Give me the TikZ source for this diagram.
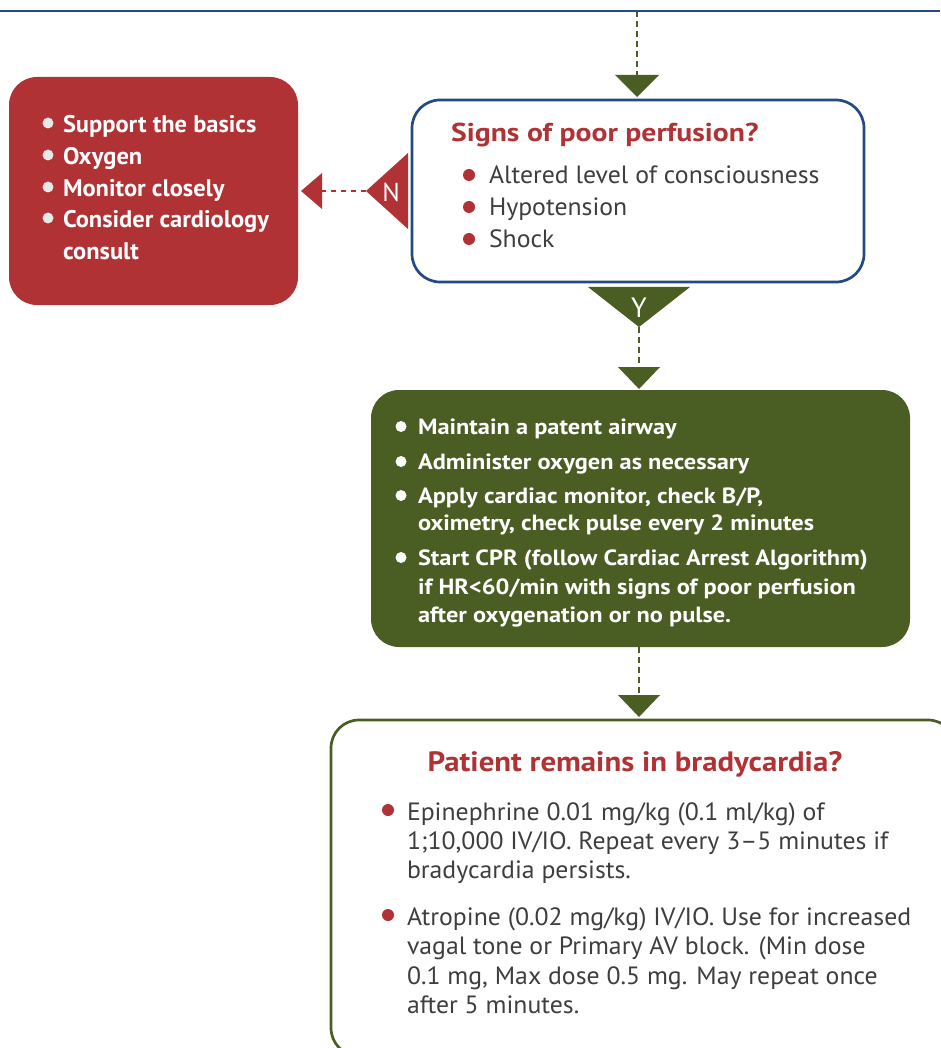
\documentclass[tikz,border=0pt]{standalone}
\usepackage{fontspec}
\setmainfont{PT Sans}
\newfontfamily\rfont[FakeStretch=1.02]{PT Sans}
\newfontfamily\gfont[FakeStretch=1.108]{PT Sans}
\newfontfamily\qfont[FakeStretch=1.15]{PT Sans}
\newfontfamily\bfont[FakeStretch=1.10]{PT Sans}
\newfontfamily\bodyfont[FakeStretch=1.03]{PT Sans}
\definecolor{cred}{HTML}{B03235}
\definecolor{cblue}{HTML}{244A84}
\definecolor{cgreen}{HTML}{4A5D23}
\definecolor{ctext}{HTML}{3E3E3E}
\definecolor{cdot}{HTML}{E8E8E8}
\begin{document}
\begin{tikzpicture}[x=1pt,y=-1pt,
  box/.style={rounded corners=28pt, line width=2.7pt, anchor=north west, inner sep=0pt, outer sep=0pt},
  line/.style={anchor=base west, inner sep=0pt, outer sep=0pt},
  qtitle/.style={inner sep=0pt, text=cred, font=\qfont\bfseries\fontsize{25.8}{26}\selectfont},
  bodyq/.style={line, text=ctext, font=\bodyfont\fontsize{25}{25}\selectfont},
  bodyr/.style={line, text=white, font=\rfont\bfseries\fontsize{24}{24}\selectfont},
  bodyg/.style={line, text=white, font=\gfont\bfseries\fontsize{22}{24}\selectfont},
  gdash/.style={draw=cgreen, line width=2.5pt, dash pattern=on 6pt off 4pt},
  rdash/.style={draw=cred, line width=2.5pt, dash pattern=on 5pt off 5pt},
  lab/.style={inner sep=0pt, text=white, font=\fontsize{26}{26}\selectfont}]
\useasboundingbox (0,0) rectangle (940,1048);
\fill[white] (0,0) rectangle (940,1048);
% top rule
\draw[cblue, line width=2.2pt] (0,11) -- (940,11);

% boxes
\node[box, fill=cred, minimum width=289pt, minimum height=228pt] (rbox) at (9,77) {};
\node[box, draw=cblue, fill=white, minimum width=452pt, minimum height=182pt] (qbox) at (412,100) {};
\node[box, fill=cgreen, minimum width=539pt, minimum height=257pt] (gbox) at (371,390) {};
\node[box, draw=cgreen, fill=white, minimum width=625pt, minimum height=336pt] (bbox) at (331,720) {};

% top arrow
\coordinate (t0) at (637,11);
\coordinate (t1) at (637,75);
\draw[gdash] (t0) -- (t1);
\fill[cgreen] (615,75) -- (659,75) -- (637,97) -- cycle;

% N branch
\fill[cred] (408,153) -- (408,229) -- (366,191) -- cycle;
\node[lab] (nlab) at (391,192) {N};
\coordinate (n0) at (366,191);
\coordinate (n1) at (322,191);
\draw[rdash] (n0) -- (n1);
\fill[cred] (322,173) -- (322,209) -- (301,191) -- cycle;

% Y branch
\fill[cgreen] (588,287) -- (690,287) -- (639,327) -- cycle;
\node[lab, font=\fontsize{28}{28}\selectfont] (ylab) at (639,308) {Y};
\coordinate (y0) at (639,327);
\coordinate (y1) at (639,367);
\draw[gdash] (y0) -- (y1);
\fill[cgreen] (618,367) -- (660,367) -- (639,389) -- cycle;

% bottom arrow
\coordinate (g0) at (639,647);
\coordinate (g1) at (639,695);
\draw[gdash] (g0) -- (g1);
\fill[cgreen] (618,695) -- (660,695) -- (639,717) -- cycle;

% question box text
\node[qtitle, anchor=base west] (qt) at (451,142) {Signs of poor perfusion?};
\foreach \b/\t [count=\i] in {184/Altered level of consciousness, 216/Hypotension, 248/Shock}{
  \fill[cred] (469,\b-9) circle (6pt);
  \node[bodyq] (q\i) at (489,\b) {\t};
}

% red box text
\foreach \b/\t [count=\i] in {133/Support the basics, 165/Oxygen, 197/Monitor closely, 228/Consider cardiology}{
  \fill[cdot] (48,\b-10) circle (5.5pt);
  \node[bodyr] (r\i) at (63,\b) {\t};
}
\node[bodyr] (r5) at (63,260) {consult};

% green box text
\foreach \b in {434,469,503,565}{
  \fill[white] (401,\b-7.5) circle (5.5pt);
}
\node[bodyg] (g1t) at (418,434) {Maintain a patent airway};
\node[bodyg] (g2t) at (418,469) {Administer oxygen as necessary};
\node[bodyg] (g3t) at (418,503) {Apply cardiac monitor, check B/P,};
\node[bodyg] (g4t) at (418,530) {oximetry, check pulse every 2 minutes};
\node[bodyg] (g5t) at (418,565) {Start CPR (follow Cardiac Arrest Algorithm)};
\node[bodyg] (g6t) at (418,594) {if HR<60/min with signs of poor perfusion};
\node[bodyg] (g7t) at (418,622) {after oxygenation or no pulse.};

% bottom box text
\node[qtitle, anchor=base, font=\bfont\bfseries\fontsize{28}{28}\selectfont] (bt) at (635,771) {Patient remains in bradycardia?};
\foreach \b in {820,925}{
  \fill[cred] (388,\b-10) circle (6pt);
}
\node[bodyq] (b1) at (407,820) {Epinephrine 0.01 mg/kg (0.1 ml/kg) of};
\node[bodyq] (b2) at (407,849) {1;10,000 IV/IO. Repeat every 3–5 minutes if};
\node[bodyq] (b3) at (407,878) {bradycardia persists.};
\node[bodyq] (b4) at (407,925) {Atropine (0.02 mg/kg) IV/IO. Use for increased};
\node[bodyq] (b5) at (407,954) {vagal tone or Primary AV block. (Min dose};
\node[bodyq] (b6) at (407,984) {0.1 mg, Max dose 0.5 mg. May repeat once};
\node[bodyq] (b7) at (407,1013) {after 5 minutes.};
\end{tikzpicture}
\end{document}
